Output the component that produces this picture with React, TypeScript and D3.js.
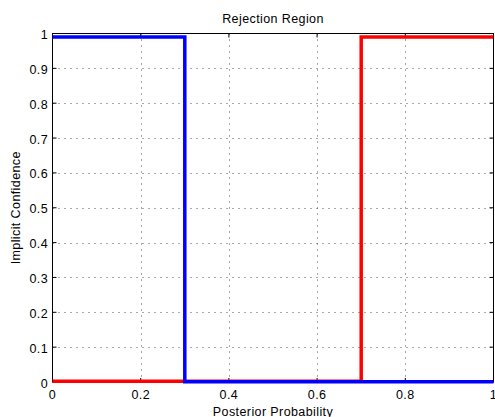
import React from "react";
import * as d3 from "d3";

const blueX = [0, 0.3, 0.3, 1];
const blueY = [0.99, 0.99, 0.001, 0.001];
const redX = [0, 0.7, 0.7, 1];
const redY = [0.002, 0.002, 0.99, 0.99];
const xTicks = [0, 0.2, 0.4, 0.6, 0.8, 1];
const yTicks = [0, 0.1, 0.2, 0.3, 0.4, 0.5, 0.6, 0.7, 0.8, 0.9, 1];

const W = 495, H = 417;
const L = 52.5, R = 493.5, T = 33.5, B = 382;

export default function App() {
  const x = d3.scaleLinear().domain([0, 1]).range([L, R]);
  const y = d3.scaleLinear().domain([0, 1]).range([B, T]);
  const line = d3.line<[number, number]>().x(d => x(d[0])).y(d => y(d[1]));
  const blue = blueX.map((v, i) => [v, blueY[i]] as [number, number]);
  const red = redX.map((v, i) => [v, redY[i]] as [number, number]);
  const font = "Liberation Sans, Arial, sans-serif";
  return (
    <svg width={W} height={H} style={{ position: "absolute", left: 0, top: 0 }}>
      <rect width={W} height={H} fill="white" />
      <g stroke="#555" strokeWidth={1} strokeDasharray="1,5">
        {xTicks.slice(1, -1).map(t => (
          <line key={"gx" + t} x1={Math.round(x(t)) + 0.5} x2={Math.round(x(t)) + 0.5} y1={T} y2={B} />
        ))}
        {yTicks.slice(1, -1).map(t => (
          <line key={"gy" + t} x1={L} x2={R} y1={Math.round(y(t)) + 0.5} y2={Math.round(y(t)) + 0.5} />
        ))}
      </g>
      <g stroke="black" strokeWidth={1}>
        {xTicks.map(t => (
          <g key={"tx" + t}>
            <line x1={x(t)} x2={x(t)} y1={B} y2={B - 4} />
            <line x1={x(t)} x2={x(t)} y1={T} y2={T + 4} />
          </g>
        ))}
        {yTicks.map(t => (
          <g key={"ty" + t}>
            <line x1={L} x2={L + 4} y1={y(t)} y2={y(t)} />
            <line x1={R} x2={R - 4} y1={y(t)} y2={y(t)} />
          </g>
        ))}
        <rect x={L} y={T} width={R - L} height={B - T} fill="none" />
      </g>
      <path d={line(red) || ""} fill="none" stroke="#ff0000" strokeWidth={3.5} />
      <path d={line(blue) || ""} fill="none" stroke="#0000ff" strokeWidth={3.5} />
      <g fontFamily={font} fontSize={12.5} fill="black" letterSpacing={0.4}>
        {xTicks.map(t => (
          <text key={"lx" + t} x={x(t)} y={399} textAnchor="middle">{String(t)}</text>
        ))}
        {yTicks.map(t => (
          <text key={"ly" + t} x={L - 4.5} y={y(t) + 5.5} textAnchor="end">{String(t)}</text>
        ))}
        <text x={273} y={22.5} textAnchor="middle">Rejection Region</text>
        <text x={273} y={415.5} textAnchor="middle">Posterior Probability</text>
        <text transform={`translate(19.5,${(T + B) / 2}) rotate(-90)`} textAnchor="middle">Implicit Confidence</text>
      </g>
    </svg>
  );
}
